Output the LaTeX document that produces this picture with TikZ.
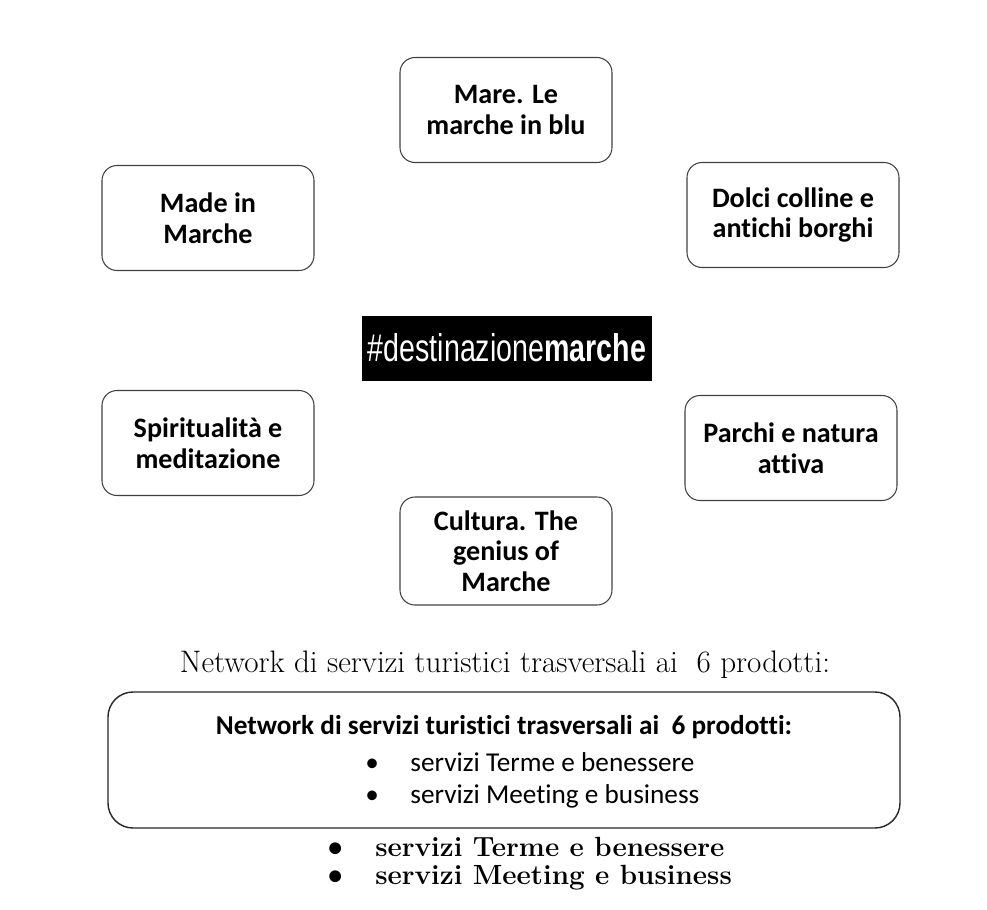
\documentclass[tikz,border=0pt]{standalone}
\usepackage{fontspec}
\setsansfont[Ligatures=NoCommon]{Carlito}
\newfontfamily\hashfont[FakeStretch=0.74]{Liberation Sans}
\usetikzlibrary{positioning}
\tikzset{every picture/.style={/utils/exec={\sffamily}}}

\begin{document}
\begin{tikzpicture} [
			prodotto/.style={align=center,draw=black!75,rounded corners=3mm,line width=0.6pt,font=\fontsize{16}{17.5}\selectfont\bfseries,minimum width=42.4mm,minimum height=21mm},
			hashtag/.style={fill=black,text=white,minimum width=58mm,minimum height=13mm,inner sep=0pt,font=\hashfont\fontsize{22}{22}\selectfont},
			rete/.style={draw=black!85,rounded corners=5mm,line width=0.8pt,minimum width=158.4mm,minimum height=27.2mm},
			titolo/.style={font=\rmfamily\fontsize{17.7}{19}\selectfont},
			voce/.style={anchor=west,inner sep=0pt,font=\fontsize{15.5}{17}\selectfont},
			voceserif/.style={anchor=west,inner sep=0pt,font=\rmfamily\bfseries\fontsize{15.8}{18}\selectfont}
		]
			\useasboundingbox (0,0) rectangle (19.74,-18.18);
			\node at (10.12,-2.2) [prodotto] (mare) {Mare. Le\\marche in blu};
			\node at (4.16,-4.36) [prodotto] (madein) {Made in\\Marche};
			\node at (15.86,-4.3) [prodotto] (colline) {Dolci colline e\\antichi borghi};
			\node at (10.14,-6.96) [hashtag] (destinazione) {\#destinazione\textbf{marche}};
			\node at (4.16,-8.86) [prodotto] (spiritualita) {Spiritualità e\\meditazione};
			\node at (15.82,-8.96) [prodotto] (parchi) {Parchi e natura\\attiva};
			\node at (10.12,-11.02) [prodotto, minimum height=21.6mm] (cultura) {Cultura. The\\genius of\\Marche};
			\node at (10.1,-13.3) [titolo] (network) {Network di servizi turistici trasversali ai~ 6 prodotti:};
			\node at (10.08,-15.2) [rete] (retebox) {};
			\node at (10.08,-14.54) [font=\fontsize{15.5}{17}\selectfont\bfseries] (retetitolo) {Network di servizi turistici trasversali ai~ 6 prodotti:};
			\node at (7.3,-15.24) [voce] (terme) {\makebox[9mm][l]{\textbullet}servizi Terme e benessere};
			\node at (7.3,-15.92) [voce] (meeting) {\makebox[9mm][l]{\textbullet}servizi Meeting e business};
			\node at (6.56,-16.94) [voceserif] (termebis) {\makebox[9.4mm][l]{\sffamily\textbullet}servizi Terme e benessere};
			\node at (6.56,-17.56) [voceserif] (meetingbis) {\makebox[9.4mm][l]{\sffamily\textbullet}servizi Meeting e business};
		\end{tikzpicture}
\end{document}
